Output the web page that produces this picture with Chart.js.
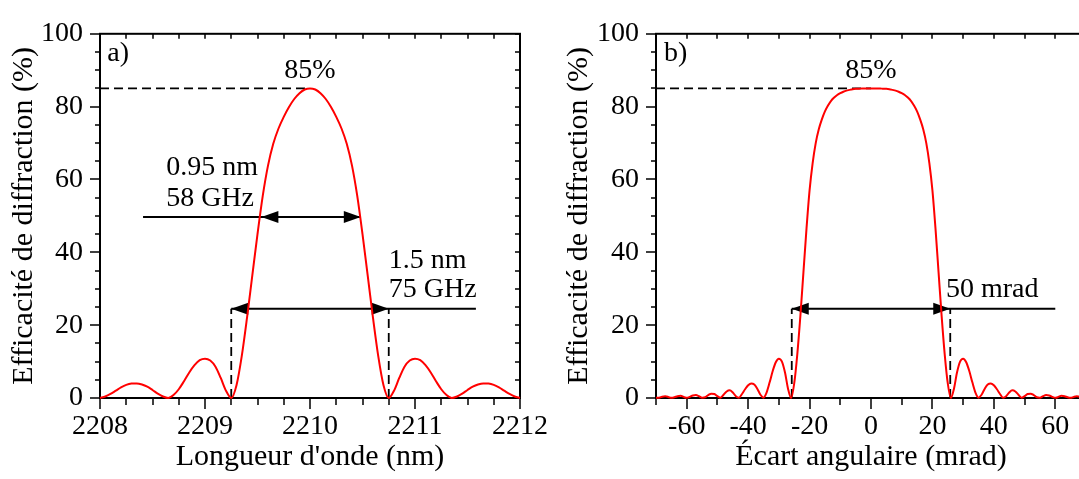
<!DOCTYPE html>
<html>
<head>
<meta charset="utf-8">
<script src="https://cdn.jsdelivr.net/npm/chart.js@4.4.1/dist/chart.umd.min.js"></script>
<style>
html, body { margin: 0; padding: 0; background: #fff; overflow: hidden; width: 1079px; height: 479px; }
#wa { position: absolute; left: 0; top: 0; width: 560px; height: 479px; }
#wb { position: absolute; left: 540px; top: 0; width: 560px; height: 479px; }
canvas { display: block; }
</style>
</head>
<body>
<div id="wa"><canvas id="ca" width="560" height="479"></canvas></div>
<div id="wb"><canvas id="cb" width="560" height="479"></canvas></div>
<script>
// ---------- Panel a) : efficiency vs wavelength ----------
const wavelengthNm = [
  2208.00, 2208.05, 2208.10, 2208.15, 2208.20, 2208.25, 2208.30, 2208.35, 2208.40, 2208.45,
  2208.50, 2208.55, 2208.60, 2208.65, 2208.70, 2208.75, 2208.80, 2208.85, 2208.90, 2208.95,
  2209.00, 2209.05, 2209.10, 2209.15, 2209.20, 2209.25, 2209.30, 2209.35, 2209.40, 2209.45,
  2209.50, 2209.55, 2209.60, 2209.65, 2209.70, 2209.75, 2209.80, 2209.85, 2209.90, 2209.95,
  2210.00,
  2210.05, 2210.10, 2210.15, 2210.20, 2210.25, 2210.30, 2210.35, 2210.40, 2210.45, 2210.50,
  2210.55, 2210.60, 2210.65, 2210.70, 2210.75, 2210.80, 2210.85, 2210.90, 2210.95, 2211.00,
  2211.05, 2211.10, 2211.15, 2211.20, 2211.25, 2211.30, 2211.35, 2211.40, 2211.45, 2211.50,
  2211.55, 2211.60, 2211.65, 2211.70, 2211.75, 2211.80, 2211.85, 2211.90, 2211.95, 2212.00
];
const efficiencyA = [
  0, 0.4, 1.1, 2.0, 2.9, 3.6, 3.95, 4.0, 3.7, 3.1,
  2.2, 1.2, 0.4, 0, 0.8, 2.4, 4.6, 7.0, 9.0, 10.4,
  10.8, 10.3, 8.6, 5.5, 2.0, 0, 3.5, 11.5, 22.0, 33.5,
  45.0, 55.5, 63.8, 69.8, 74.0, 77.2, 79.9, 82.1, 83.7, 84.7,
  85,
  84.7, 83.7, 82.1, 79.9, 77.2, 74.0, 69.8, 63.8, 55.5, 45.0,
  33.5, 22.0, 11.5, 3.5, 0, 2.0, 5.5, 8.6, 10.3, 10.8,
  10.4, 9.0, 7.0, 4.6, 2.4, 0.8, 0, 0.4, 1.2, 2.2,
  3.1, 3.7, 4.0, 3.95, 3.6, 2.9, 2.0, 1.1, 0.4, 0
];
const xTicksA = [2208, 2209, 2210, 2211, 2212];
const xTickMarksA = [2208, 2208.25, 2208.5, 2208.75, 2209, 2209.25, 2209.5, 2209.75, 2210,
                     2210.25, 2210.5, 2210.75, 2211, 2211.25, 2211.5, 2211.75, 2212];

// ---------- Panel b) : efficiency vs angular deviation ----------
const angleMrad = [
  -70, -69, -68, -67, -66, -65, -64, -63, -62, -61, -60, -59, -58, -57, -56, -55, -54, -53, -52, -51,
  -50, -49, -48, -47, -46, -45, -44, -43, -42, -41, -40, -39, -38, -37, -36, -35, -34, -33, -32, -31,
  -30, -29, -28, -27, -26, -25, -24, -23, -22, -21, -20, -19, -18, -17, -16, -15, -14, -13, -12, -11,
  -10, -9, -8, -7, -6, -5, -4, -3, -2, -1,
  0,
  1, 2, 3, 4, 5, 6, 7, 8, 9, 10, 11, 12, 13, 14, 15, 16, 17, 18, 19, 20,
  21, 22, 23, 24, 25, 26, 27, 28, 29, 30, 31, 32, 33, 34, 35, 36, 37, 38, 39, 40,
  41, 42, 43, 44, 45, 46, 47, 48, 49, 50, 51, 52, 53, 54, 55, 56, 57, 58, 59, 60,
  61, 62, 63, 64, 65, 66, 67, 68, 69, 70
];
const efficiencyB = [
  0.1, 0.1, 0.35, 0.45, 0.3, 0.05, 0.2, 0.5, 0.6, 0.3, 0.05, 0.3, 0.7, 0.8, 0.5, 0.1, 0.2, 0.8, 1.2, 1.1,
  0.5, 0.1, 0.9, 1.8, 2.1, 1.5, 0.5, 0.1, 1.1, 2.4, 3.5, 4.0, 3.7, 2.5, 0.9, 0.1, 1.5, 4.3, 7.4, 9.8,
  10.8, 10.0, 7.0, 2.5, 0, 4.0, 12.0, 22.5, 34.5, 46.5, 57.0, 64.5, 70.0, 73.8, 76.5, 78.7, 80.3, 81.6, 82.5, 83.2,
  83.7, 84.1, 84.4, 84.6, 84.8, 84.9, 84.9, 85, 85, 85,
  85,
  85, 85, 85, 84.9, 84.9, 84.8, 84.6, 84.4, 84.1, 83.7, 83.2, 82.5, 81.6, 80.3, 78.7, 76.5, 73.8, 70.0, 64.5, 57.0,
  46.5, 34.5, 22.5, 12.0, 4.0, 0, 2.5, 7.0, 10.0, 10.8, 9.8, 7.4, 4.3, 1.5, 0.1, 0.9, 2.5, 3.7, 4.0, 3.5,
  2.4, 1.1, 0.1, 0.5, 1.5, 2.1, 1.8, 0.9, 0.1, 0.5, 1.1, 1.2, 0.8, 0.2, 0.1, 0.5, 0.8, 0.7, 0.3, 0.05,
  0.3, 0.6, 0.5, 0.2, 0.05, 0.3, 0.45, 0.35, 0.1, 0.1
];
const xTicksB = [-60, -40, -20, 0, 20, 40, 60];
const xTickMarksB = [-70, -60, -50, -40, -30, -20, -10, 0, 10, 20, 30, 40, 50, 60, 70];

// ---------- shared y axis ----------
const yTicks = [0, 20, 40, 60, 80, 100];
const yTickMarks = [0, 5, 10, 15, 20, 25, 30, 35, 40, 45, 50, 55, 60, 65, 70, 75, 80, 85, 90, 95, 100];

// ---------- annotation values (data units) ----------
const peakEfficiency = 85;
const halfLevelA = 49.7, halfLeftA = 2209.537, halfRightA = 2210.484, halfTailA = 2208.41;
const nullLevel = 24.5;
const nullLeftA = 2209.25, nullRightA = 2210.75, nullTailA = 2211.58;
const nullLeftB = -25.8, nullRightB = 25.8, nullTailB = 60;

const FONT = '"Liberation Serif", "Times New Roman", serif';
const FS = 28;
const FS_TITLE = 30;

function makeDecor(cfg) {
  return {
    id: 'decor' + cfg.name,
    beforeDatasetsDraw(chart) {
      const { ctx, chartArea: a, scales: { x, y } } = chart;
      const X = v => x.getPixelForValue(v);
      const Y = v => y.getPixelForValue(v);
      ctx.save();
      // frame
      ctx.strokeStyle = '#000';
      ctx.lineWidth = 2;
      ctx.setLineDash([]);
      ctx.strokeRect(a.left, a.top, a.right - a.left, a.bottom - a.top);
      // tick marks
      ctx.lineWidth = 1.5;
      ctx.beginPath();
      cfg.xMarks.forEach(v => {
        const px = Math.round(X(v));
        const major = cfg.xMajor.includes(v);
        ctx.moveTo(px, a.bottom); ctx.lineTo(px, a.bottom + (major ? 11 : 7));
        ctx.moveTo(px, a.top); ctx.lineTo(px, a.top + 5);
      });
      yTickMarks.forEach(v => {
        const py = Math.round(Y(v));
        const major = yTicks.includes(v);
        ctx.moveTo(a.left, py); ctx.lineTo(a.left - (major ? 10 : 5), py);
        ctx.moveTo(a.right, py); ctx.lineTo(a.right - 5, py);
      });
      ctx.stroke();

      // dashed guide lines
      ctx.lineWidth = 1.8;
      ctx.setLineDash([9, 5]);
      ctx.beginPath();
      ctx.moveTo(a.left, Y(peakEfficiency)); ctx.lineTo(X(cfg.center), Y(peakEfficiency));
      ctx.moveTo(X(cfg.nullLeft), Y(0)); ctx.lineTo(X(cfg.nullLeft), Y(nullLevel));
      ctx.moveTo(X(cfg.nullRight), Y(0)); ctx.lineTo(X(cfg.nullRight), Y(nullLevel));
      ctx.stroke();
      ctx.setLineDash([]);

      // arrows
      const head = (tip, py, dir) => {
        ctx.beginPath();
        ctx.moveTo(tip, py);
        ctx.lineTo(tip - dir * 17, py - 6);
        ctx.lineTo(tip - dir * 17, py + 6);
        ctx.closePath();
        ctx.fill();
      };
      ctx.fillStyle = '#000';
      ctx.lineWidth = 2;
      cfg.arrows.forEach(ar => {
        const py = Y(ar.level);
        ctx.beginPath();
        ctx.moveTo(X(ar.from), py); ctx.lineTo(X(ar.to), py);
        ctx.stroke();
        head(X(ar.left), py, -1);
        head(X(ar.right), py, 1);
      });

      // texts
      ctx.font = FS + 'px ' + FONT;
      ctx.fillStyle = '#000';
      ctx.textBaseline = 'alphabetic';
      cfg.texts.forEach(t => {
        ctx.textAlign = t.align || 'left';
        ctx.fillText(t.text, X(t.x), Y(t.y));
      });
      ctx.restore();
    }
  };
}

function makeChart(id, xs, ys, xr, xTickVals, xTitle, layoutPad, yWidth, decor) {
  return new Chart(document.getElementById(id), {
    type: 'line',
    data: {
      datasets: [{
        data: xs.map((v, i) => ({ x: v, y: ys[i] })),
        borderColor: '#ff0000',
        borderWidth: 2,
        pointRadius: 0,
        fill: false,
        cubicInterpolationMode: 'monotone',
        clip: false
      }]
    },
    options: {
      responsive: false,
      animation: false,
      devicePixelRatio: 1,
      events: [],
      layout: { padding: layoutPad },
      plugins: { legend: { display: false }, tooltip: { enabled: false } },
      scales: {
        x: {
          type: 'linear',
          min: xr[0], max: xr[1],
          afterBuildTicks: s => { s.ticks = xTickVals.map(v => ({ value: v })); },
          afterFit: s => { s.height = 81; },
          grid: { drawOnChartArea: false, drawTicks: false },
          border: { display: false },
          ticks: {
            autoSkip: false, maxRotation: 0, padding: 12, color: '#000',
            font: { family: FONT, size: FS },
            callback: v => String(v)
          },
          title: {
            display: true, text: xTitle, color: '#000',
            font: { family: FONT, size: FS_TITLE },
            padding: { top: 0, bottom: 4 }
          }
        },
        y: {
          min: 0, max: 100,
          afterBuildTicks: s => { s.ticks = yTicks.map(v => ({ value: v })); },
          afterFit: s => { s.width = yWidth; },
          grid: { drawOnChartArea: false, drawTicks: false },
          border: { display: false },
          ticks: {
            padding: 17, color: '#000',
            font: { family: FONT, size: FS },
            callback: v => String(v)
          },
          title: {
            display: true, text: 'Efficacité de diffraction (%)', color: '#000',
            font: { family: FONT, size: FS_TITLE },
            padding: { top: 6, bottom: 0 }
          }
        }
      }
    },
    plugins: [makeDecor(decor)]
  });
}

makeChart('ca', wavelengthNm, efficiencyA, [2208, 2212], xTicksA, "Longueur d'onde (nm)",
  { left: 0, top: 18, right: 33, bottom: 0 }, 100, {
    name: 'A', center: 2210, xMarks: xTickMarksA, xMajor: xTicksA,
    nullLeft: nullLeftA, nullRight: nullRightA,
    arrows: [
      { level: halfLevelA, from: halfTailA, to: halfRightA, left: halfLeftA, right: halfRightA },
      { level: nullLevel, from: nullLeftA, to: nullTailA, left: nullLeftA, right: nullRightA }
    ],
    texts: [
      { text: 'a)', x: 2208.07, y: 92.4 },
      { text: '85%', x: 2210, y: 87.8, align: 'center' },
      { text: '0.95 nm', x: 2208.63, y: 61.1 },
      { text: '58 GHz', x: 2208.63, y: 52.6 },
      { text: '1.5 nm', x: 2210.75, y: 35.8 },
      { text: '75 GHz', x: 2210.75, y: 27.6 }
    ]
  });

makeChart('cb', angleMrad, efficiencyB, [-70, 70], xTicksB, 'Écart angulaire (mrad)',
  { left: 15, top: 18, right: 14, bottom: 0 }, 101, {
    name: 'B', center: 0, xMarks: xTickMarksB, xMajor: [-60, -40, -20, 0, 20, 40, 60],
    nullLeft: nullLeftB, nullRight: nullRightB,
    arrows: [
      { level: nullLevel, from: nullLeftB, to: nullTailB, left: nullLeftB, right: nullRightB }
    ],
    texts: [
      { text: 'b)', x: -67.4, y: 92.4 },
      { text: '85%', x: 0, y: 87.8, align: 'center' },
      { text: '50 mrad', x: 24.4, y: 27.6 }
    ]
  });
</script>
</body>
</html>
